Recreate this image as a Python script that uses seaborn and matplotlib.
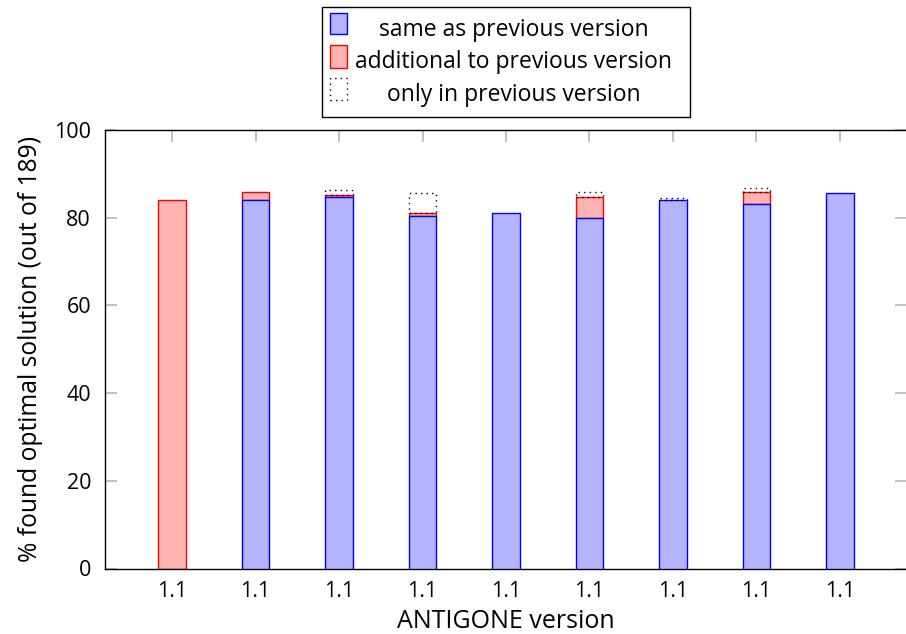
import numpy as np
import pandas as pd
import matplotlib
matplotlib.use("Agg")
import matplotlib.pyplot as plt
from matplotlib.patches import Rectangle
import seaborn as sns

# ---- data ----
run_index = list(range(9))
version_labels = ["1.1"] * 9
same_as_prev = [0.0, 84.1, 84.7, 80.5, 81.0, 79.9, 84.1, 83.2, 85.7]
additional = [84.0, 1.7, 0.5, 0.5, 0.0, 4.8, 0.0, 2.6, 0.0]
only_prev = [0.0, 0.0, 1.1, 4.7, 0.0, 1.1, 0.5, 1.0, 0.0]

legend_labels = ["same as previous version",
                 "additional to previous version",
                 "only in previous version"]

sns.set_theme(style="white")
plt.rcParams["font.family"] = ["Open Sans", "DejaVu Sans"]

W, H = 906, 634
fig = plt.figure(figsize=(W / 100, H / 100), dpi=100)
ax = fig.add_axes([105 / W, 1 - 568.5 / H, (907 - 105) / W, (568.5 - 130) / H])

same = np.array(same_as_prev)
add = np.array(additional)
prev = np.array(only_prev)
total = same + add

df = pd.DataFrame({"run": run_index, "same": same, "add": add, "prev": prev})

bw = 0.325
BLUE_FILL = "#b3b3ff"
RED_FILL = "#ffb3b3"

# blue: same as previous
sns.barplot(data=df, x="run", y="same", width=bw, color=BLUE_FILL, saturation=1, ax=ax)
for p, h in zip(ax.containers[-1], same):
    p.set_facecolor(BLUE_FILL)
    p.set_edgecolor("#0000ff")
    p.set_linewidth(1.0)
    p.set_zorder(3)
    p.set_visible(h > 0)
# red: additional, stacked on blue
sns.barplot(data=df, x="run", y="add", width=bw, color=RED_FILL, saturation=1, ax=ax)
for p, b, h in zip(ax.containers[-1], same, add):
    p.set_y(b)
    p.set_facecolor(RED_FILL)
    p.set_edgecolor("#ff0000")
    p.set_linewidth(1.0)
    p.set_zorder(2)
    p.set_visible(h > 0)
# dotted: only in previous version, stacked on top
sns.barplot(data=df, x="run", y="prev", width=bw, color="white", saturation=1, ax=ax)
for p, b, h in zip(ax.containers[-1], total, prev):
    p.set_y(b)
    p.set_facecolor("none")
    p.set_edgecolor("black")
    p.set_linestyle((0, (1, 3)))
    p.set_linewidth(1.0)
    p.set_zorder(4)
    p.set_visible(h > 0)

ax.set_xlim(-0.803, 8.803)
ax.set_ylim(0, 100)
ax.set_yticks([0, 20, 40, 60, 80, 100])
ax.set_xticks(run_index)
ax.set_xticklabels(version_labels)
ax.tick_params(axis="both", which="both", direction="in", length=8.5, width=1.1,
               color="#b0b0b0", labelsize=15.5, labelcolor="black", pad=10,
               top=True, right=True, bottom=True, left=True)
ax.tick_params(axis="x", pad=9)
ax.set_xlabel("ANTIGONE version", fontsize=18, color="black", labelpad=5)
ax.set_ylabel("% found optimal solution (out of 189)", fontsize=17.7, color="black", labelpad=8)
for s in ax.spines.values():
    s.set_visible(True)
    s.set_color("black")
    s.set_linewidth(1.0)

# ---- legend (pgfplots style, centered entries) ----
def fx(x):
    return x / W

def fy(y):
    return 1 - y / H

box = Rectangle((fx(321.7), fy(116.7)), fx(690) - fx(321.7), fy(6.7) - fy(116.7),
                transform=fig.transFigure, facecolor="white", edgecolor="black",
                linewidth=1.0, zorder=10)
fig.patches.append(box)
sw_x0, sw_x1 = 330, 347
rows = [(12.7, 34.3, 36), (45.3, 67.7, 68.5), (78, 100, 101)]
styles = [dict(facecolor=BLUE_FILL, edgecolor="#0000ff", linestyle="-"),
          dict(facecolor=RED_FILL, edgecolor="#ff0000", linestyle="-"),
          dict(facecolor="none", edgecolor="black", linestyle=(0, (1, 3)))]
for (y0, y1, base), st, lab in zip(rows, styles, legend_labels):
    r = Rectangle((fx(sw_x0), fy(y1)), fx(sw_x1) - fx(sw_x0), fy(y0) - fy(y1),
                  transform=fig.transFigure, linewidth=1.0, zorder=11, **st)
    fig.patches.append(r)
    fig.text(fx(513.5), fy(base), lab, ha="center", va="baseline",
             fontsize=16.5, color="black", zorder=12)

fig.savefig("out.png", dpi=100)
